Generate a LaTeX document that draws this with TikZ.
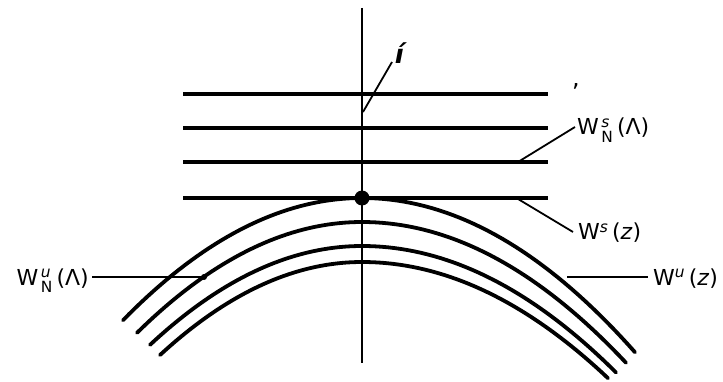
\documentclass[tikz,border=0pt]{standalone}
\usepackage{amsmath}
\usepackage{fontspec}
\setmainfont{DejaVu Sans}
\usetikzlibrary{positioning, calc}

\tikzset{
  stableline/.style={line width=3.8pt},
  unstablecurve/.style={line width=3.8pt, line cap=round},
  axisline/.style={line width=2pt},
  leader/.style={line width=1.8pt},
  thinleader/.style={line width=1.3pt},
  lab/.style={inner sep=0pt, font=\fontsize{22}{26}\selectfont}
}

\begin{document}
\begin{tikzpicture}[x=1pt, y=-1pt]
  \useasboundingbox (0,0) rectangle (723,382);
  % Unstable curves
  \foreach \t/\kl/\kr/\xl/\xr in {198/21.4/20.7/123/635, 222/21.9/20.2/137/626, 246/22.0/19.6/150/616, 262/22.8/19.2/160/608}
    \draw[unstablecurve] plot[domain=\xl:362, samples=40] (\x,{\t+\kl*((\x-362)/100)*((\x-362)/100)})
      -- plot[domain=362:\xr, samples=40] (\x,{\t+\kr*((\x-362)/100)*((\x-362)/100)});

  % Stable lines
  \foreach \y [count=\i] in {94,128,162,198}
    \draw[stableline] (183,\y) coordinate (h\i a) -- (548,\y) coordinate (h\i b);

  % Axis and fixed point
  \coordinate (top) at (362,8);
  \coordinate (bot) at (362,363);
  \draw[axisline] (top) -- (bot);
  \fill (362,198) circle (7.5pt);

  % Leader points
  \coordinate (ia) at (363,112);
  \coordinate (ib) at (392,62);
  \coordinate (p3) at (518,162);
  \coordinate (e3) at (575,127);
  \coordinate (p4) at (518,199);
  \coordinate (e4) at (573,232);
  \coordinate (pu) at (567,277);
  \coordinate (eu) at (648,277);
  \coordinate (pn) at (204,277);
  \coordinate (en) at (92,277);

  % Labels
  \node[lab, anchor=base, font=\fontsize{26}{30}\selectfont\bfseries] (ilab) at (401,64) {\textit{\'\i}};
  \node[lab, font=\fontsize{24}{28}\selectfont] (comma) at (576,86) {,};
  \node[lab, anchor=base west] (wsnl) at ([shift={(2pt,-8pt)}]e3) {W$^{\,\textit{s}}_{\,\text{N}}$\,(Λ)};
  \node[lab, anchor=base west] (wsz) at ([shift={(5pt,-8pt)}]e4) {W$^{\textit{s}}$\,(\textit{z})};
  \node[lab, anchor=base west] (wuz) at ([shift={(5pt,-8pt)}]eu) {W$^{\textit{u}}$\,(\textit{z})};
  \node[lab, anchor=base east] (wunl) at ([shift={(-3pt,-8pt)}]en) {W$^{\,\textit{u}}_{\,\text{N}}$\,(Λ)};

  % Leaders
  \draw[leader] (ia) -- (ib);
  \draw[leader] (p3) -- (e3);
  \draw[leader] (p4) -- (e4);
  \draw[leader] (pu) -- (eu);
  \draw[thinleader] (en) -- (pn);
  \fill (pn) circle (3pt);
\end{tikzpicture}
\end{document}
